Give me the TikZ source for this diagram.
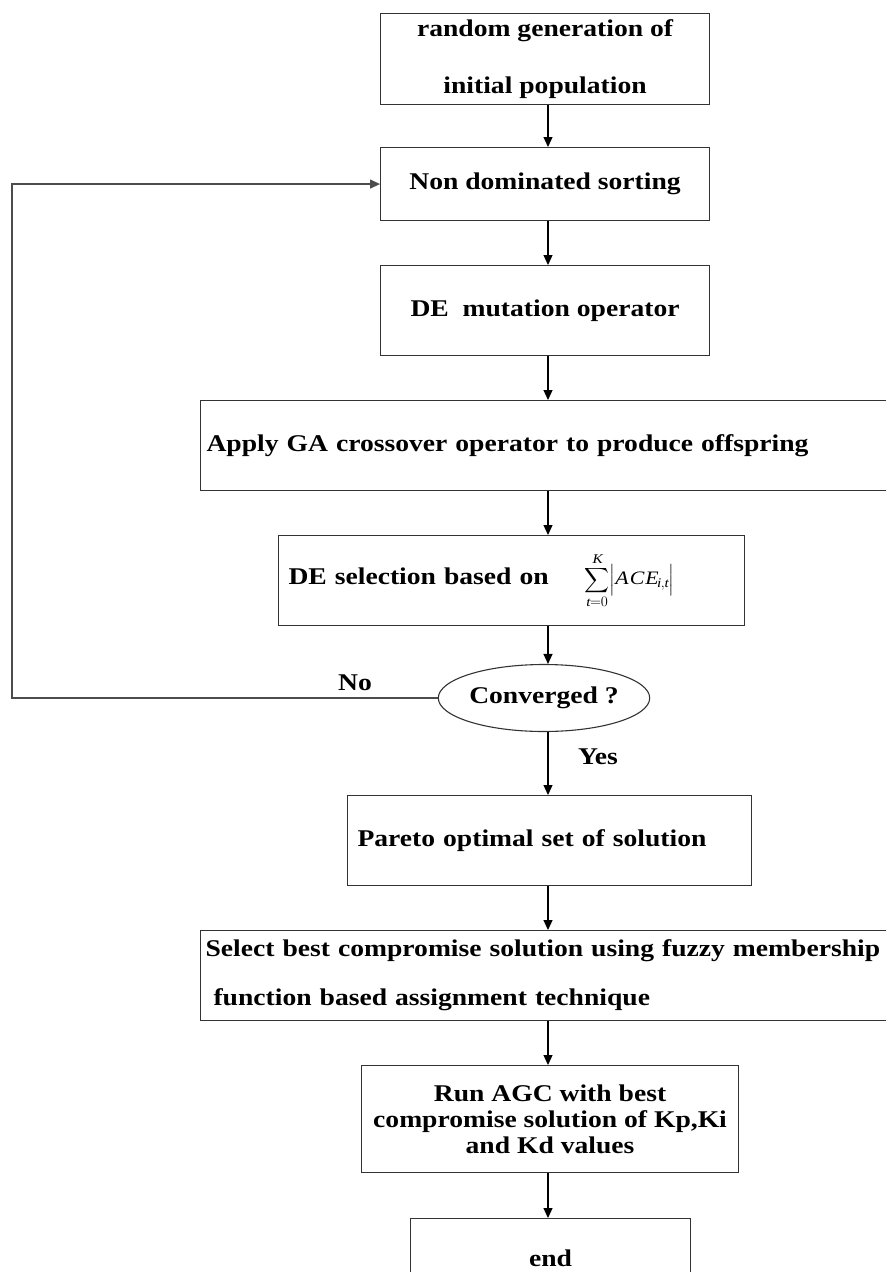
\documentclass[tikz,border=0pt]{standalone}
\usepackage{amsmath}
\usepackage{fontspec}
\setmainfont{Liberation Serif}[FakeStretch=1.15]
\usetikzlibrary{arrows.meta,shapes.geometric}

\tikzset{
  procbox/.style={draw=black!80, line width=1.1pt, anchor=north west, inner sep=6pt,
    font=\fontsize{24}{26}\selectfont\bfseries},
  decision/.style={draw=black!80, line width=1.1pt, ellipse, inner sep=0pt,
    font=\fontsize{24}{26}\selectfont\bfseries},
  answer/.style={font=\fontsize{24}{26}\selectfont\bfseries},
  arr/.style={-{Triangle[length=10pt,width=9pt]}, line width=1.2pt},
}

\begin{document}
\begin{tikzpicture}[x=1pt,y=-1pt]
\useasboundingbox (0,0) rectangle (886,1272);
\coordinate (spine) at (548,0);
\coordinate (loop) at (12,0);

\node[procbox, minimum width=329, minimum height=89, align=center] (init) at (380,13)
  {random generation of\\[31pt] initial population};
\node[procbox, minimum width=329, minimum height=73, align=center] (nds) at (380,147)
  {Non dominated sorting};
\node[procbox, minimum width=329, minimum height=90, align=center] (mut) at (380,265)
  {DE\ \ mutation operator};
\node[procbox, minimum width=700, minimum height=90, text width=688, align=left] (cross) at (200,400)
  {Apply GA crossover operator to produce offspring};
\node[procbox, minimum width=466, minimum height=90, inner xsep=10pt, text width=446, align=left] (sel) at (278,535)
  {DE selection based on\hspace{36pt}{\fontsize{19}{21}\selectfont\mdseries
   $\displaystyle\sum_{\mathit{t}=0}^{\mathit{K}}\Bigl|\mathit{A\,C\,E}_{\mathit{i},\mathit{t}}\Bigr|$}};
\node[decision, minimum width=204, minimum height=67] (conv) at (544,698) {Converged ?};
\node[procbox, minimum width=404, minimum height=90, inner xsep=10pt, text width=384, align=left] (pareto) at (347,795)
  {Pareto optimal set of solution};
\node[procbox, minimum width=700, minimum height=90, inner xsep=5pt, text width=690, align=left] (best) at (200,930)
  {Select best compromise solution using fuzzy membership\\[23pt]\hspace*{8pt}function based assignment technique};
\node[procbox, minimum width=377, minimum height=107, align=center] (agc) at (361,1065)
  {Run AGC with best\\ compromise solution of Kp,Ki\\ and Kd values};
\node[procbox, minimum width=280, minimum height=80, align=center] (fin) at (410,1218)
  {end};

\node[answer] (no) at (355,683) {No};
\node[answer] (yes) at (598,757) {Yes};

% main flow
\draw[arr] (init.south -| spine) -- (nds.north -| spine);
\draw[arr] (nds.south -| spine) -- (mut.north -| spine);
\draw[arr] (mut.south -| spine) -- (cross.north -| spine);
\draw[arr] (cross.south -| spine) -- (sel.north -| spine);
\draw[arr] (sel.south -| spine) -- (conv.north -| spine);
\draw[arr] (conv.south -| spine) -- (pareto.north -| spine);
\draw[arr] (pareto.south -| spine) -- (best.north -| spine);
\draw[arr] (best.south -| spine) -- (agc.north -| spine);
\draw[arr] (agc.south -| spine) -- (fin.north -| spine);

% loop back
\draw[arr, draw=black!70] (conv.west) -- (conv.west -| loop) |- (nds.west);

\end{tikzpicture}
\end{document}
